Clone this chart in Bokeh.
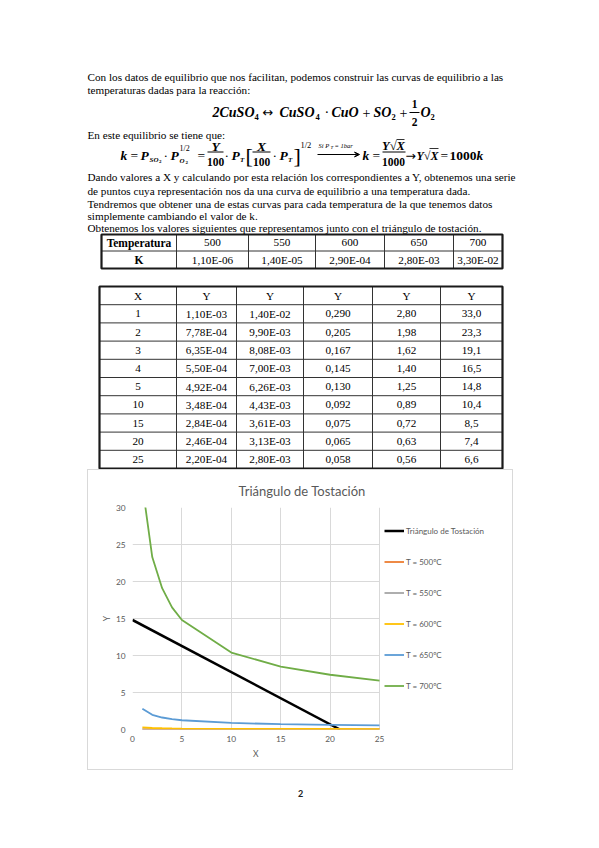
from bokeh.plotting import figure
from bokeh.models import (Range1d, Legend, LegendItem, FixedTicker, Spacer, Arrow, VeeHead, Grid, Title)
from bokeh.layouts import column, row
from bokeh.core.properties import value
from bokeh.embed import file_html
from bokeh.resources import INLINE

# ---------------- data ----------------
temps = ["500", "550", "600", "650", "700"]
k_txt = ["1,10E-06", "1,40E-05", "2,90E-04", "2,80E-03", "3,30E-02"]
x_vals = [1, 2, 3, 4, 5, 10, 15, 20, 25]
y500_txt = ["1,10E-03", "7,78E-04", "6,35E-04", "5,50E-04", "4,92E-04", "3,48E-04", "2,84E-04", "2,46E-04", "2,20E-04"]
y550_txt = ["1,40E-02", "9,90E-03", "8,08E-03", "7,00E-03", "6,26E-03", "4,43E-03", "3,61E-03", "3,13E-03", "2,80E-03"]
y600_txt = ["0,290", "0,205", "0,167", "0,145", "0,130", "0,092", "0,075", "0,065", "0,058"]
y650_txt = ["2,80", "1,98", "1,62", "1,40", "1,25", "0,89", "0,72", "0,63", "0,56"]
y700_txt = ["33,0", "23,3", "19,1", "16,5", "14,8", "10,4", "8,5", "7,4", "6,6"]
tri_x = [0, 21]
tri_y = [14.8, 0]
series_names = ["T = 500ºC", "T = 550ºC", "T = 600ºC", "T = 650ºC", "T = 700ºC"]
series_colors = ["#ED7D31", "#A5A5A5", "#FFC000", "#5B9BD5", "#70AD47"]
x_ticks = [0, 5, 10, 15, 20, 25]
y_ticks = [0, 5, 10, 15, 20, 25, 30]


def num(s):
    return float(s.replace(",", "."))


y_series = [[num(s) for s in col] for col in (y500_txt, y550_txt, y600_txt, y650_txt, y700_txt)]

SERIF = "Liberation Serif"
BODY = 11.2

# ---------------- document part ----------------
top = figure(width=591, height=469, x_range=Range1d(0, 591), y_range=Range1d(469, 0),
             output_backend="svg", toolbar_location=None, min_border=0,
             x_axis_type=None, y_axis_type=None, outline_line_color=None)
top.grid.grid_line_color = None


def txt(x, y, s, size=BODY, font=SERIF, style="normal", align="left", color="black"):
    top.text(x=[x], y=[y], text=[s], text_font=value(font), text_font_size=f"{size}px",
             text_font_style=style, text_align=align, text_baseline="middle", text_color=color)


lines = [
    (76.7, "Con los datos de equilibrio que nos facilitan, podemos construir las curvas de equilibrio a las"),
    (89.5, "temperaturas dadas para la reacción:"),
    (134.0, "En este equilibrio se tiene que:"),
    (176.7, "Dando valores a X y calculando por esta relación los correspondientes a Y, obtenemos una serie"),
    (190.0, "de puntos cuya representación nos da una curva de equilibrio a una temperatura dada."),
    (203.0, "Tendremos que obtener una de estas curvas para cada temperatura de la que tenemos datos"),
    (215.5, "simplemente cambiando el valor de k."),
    (227.5, "Obtenemos los valores siguientes que representamos junto con el triángulo de tostación."),
]
for yy, s in lines:
    txt(87, yy, s)

# equation 1
EF = 14
BI = "bold italic"
y1 = 112
txt(212, y1, "2CuSO", EF, SERIF, BI)
txt(254, y1 + 4, "4", 8.5, SERIF, "bold")
txt(262, y1, "↔", 13, "DejaVu Sans")
txt(279, y1, "CuSO", EF, SERIF, BI)
txt(315, y1 + 4, "4", 8.5, SERIF, "bold")
txt(324, y1, "·", EF, SERIF)
txt(331, y1, "CuO", EF, SERIF, BI)
txt(362, y1, "+", EF, SERIF)
txt(373, y1, "SO", EF, SERIF, BI)
txt(391, y1 + 4, "2", 8.5, SERIF, "bold")
txt(399, y1, "+", EF, SERIF)
txt(414, y1 - 9, "1", 11.5, SERIF, "bold", "center")
top.segment(x0=[409], y0=[y1], x1=[419], y1=[y1], line_color="black", line_width=1)
txt(414, y1 + 9, "2", 11.5, SERIF, "bold", "center")
txt(420, y1, "O", EF, SERIF, BI)
txt(430, y1 + 4, "2", 8.5, SERIF, "bold")

# equation 2
EF2 = 13.5
y0 = 155
yn, yd, yb = 145.5, 161.5, 151.5
txt(120, y0, "k", EF2, SERIF, BI)
txt(130, y0, "=", EF2, SERIF)
txt(140, y0, "P", EF2, SERIF, BI)
txt(149, y0 + 4, "SO", 7, SERIF, BI)
txt(158.5, y0 + 6, "2", 5, SERIF, "bold")
txt(163, y0, "·", EF2, SERIF)
txt(170, y0, "P", EF2, SERIF, BI)
txt(179, y0 - 7, "1/2", 8, SERIF)
txt(179, y0 + 5, "O", 7, SERIF, BI)
txt(185, y0 + 7, "2", 5, SERIF, "bold")
txt(197, y0, "=", EF2, SERIF)
txt(215, yn, "Y", EF2, SERIF, BI, "center")
top.segment(x0=[207], y0=[yb], x1=[223], y1=[yb], line_color="black", line_width=1)
txt(215, yd, "100", 11.5, SERIF, "bold", "center")
txt(224, y0, "·", EF2, SERIF)
txt(231, y0, "P", EF2, SERIF, BI)
txt(239.5, y0 + 4, "T", 7, SERIF, BI)
txt(245, y0, "[", 22, SERIF)
txt(261, yn, "X", EF2, SERIF, BI, "center")
top.segment(x0=[252], y0=[yb], x1=[270], y1=[yb], line_color="black", line_width=1)
txt(261, yd, "100", 11.5, SERIF, "bold", "center")
txt(272, y0, "·", EF2, SERIF)
txt(279, y0, "P", EF2, SERIF, BI)
txt(287.5, y0 + 4, "T", 7, SERIF, BI)
txt(293, y0, "]", 22, SERIF)
txt(300, y0 - 11, "1/2", 8.5, SERIF)
txt(318, y0 - 10, "Si P", 6.5, SERIF, "italic")
txt(330, y0 - 8.5, "T", 5, SERIF, "italic")
txt(334, y0 - 10, "= 1bar", 6.5, SERIF, "italic")
top.add_layout(Arrow(x_start=317, y_start=y0 - 1, x_end=359, y_end=y0 - 1, line_width=1,
                     end=VeeHead(size=5, line_width=1, fill_color="black")))
txt(362, y0, "k", EF2, SERIF, BI)
txt(372, y0, "=", EF2, SERIF)
txt(393, yn, "Y√X", 12.5, SERIF, BI, "center")
top.segment(x0=[396], y0=[yn - 6.5], x1=[404], y1=[yn - 6.5], line_color="black", line_width=0.8)
top.segment(x0=[382], y0=[yb], x1=[405], y1=[yb], line_color="black", line_width=1)
txt(393, yd, "1000", 11.5, SERIF, "bold", "center")
txt(405, y0, "→", 12.5, "DejaVu Sans")
txt(416, y0, "Y√X", 12, SERIF, BI)
top.segment(x0=[429], y0=[y0 - 7], x1=[438], y1=[y0 - 7], line_color="black", line_width=0.8)
txt(440, y0, "=", EF2, SERIF)
txt(449, y0, "1000", EF2, SERIF, "bold")
txt(476, y0, "k", EF2, SERIF, BI)

# table 1
t1_cols = [101, 176, 248, 315, 384, 453, 502]
t1_rows = [234, 250.5, 268]
inner = dict(line_color="#333333", line_width=1)
for xc in t1_cols[1:-1]:
    top.segment(x0=[xc], y0=[t1_rows[0]], x1=[xc], y1=[t1_rows[-1]], **inner)
top.segment(x0=[t1_cols[0]], y0=[t1_rows[1]], x1=[t1_cols[-1]], y1=[t1_rows[1]], **inner)
top.quad(left=[t1_cols[0]], right=[t1_cols[-1]], top=[t1_rows[0]], bottom=[t1_rows[-1]],
         fill_color=None, line_color="#1a1a1a", line_width=2.2)
cy1 = (t1_rows[0] + t1_rows[1]) / 2
cy2 = (t1_rows[1] + t1_rows[2]) / 2
txt((t1_cols[0] + t1_cols[1]) / 2, cy1, "Temperatura", 11.5, SERIF, "bold", "center")
txt((t1_cols[0] + t1_cols[1]) / 2, cy2, "K", 11.5, SERIF, "bold", "center")
for i in range(5):
    cx = (t1_cols[i + 1] + t1_cols[i + 2]) / 2
    txt(cx, cy1, temps[i], BODY, SERIF, "normal", "center")
    txt(cx, cy2, k_txt[i], BODY, SERIF, "normal", "center")

# table 2
t2_cols = [99, 176, 236, 303, 372, 440, 502]
t2_top, t2_step = 286, 18.2
t2_rows = [t2_top + t2_step * i for i in range(11)]
for xc in t2_cols[1:-1]:
    top.segment(x0=[xc], y0=[t2_rows[0]], x1=[xc], y1=[t2_rows[-1]], **inner)
for yr in t2_rows[1:-1]:
    top.segment(x0=[t2_cols[0]], y0=[yr], x1=[t2_cols[-1]], y1=[yr], **inner)
top.quad(left=[t2_cols[0]], right=[t2_cols[-1]], top=[t2_rows[0]], bottom=[t2_rows[-1]],
         fill_color=None, line_color="#1a1a1a", line_width=2.2)
headers = ["X", "Y", "Y", "Y", "Y", "Y"]
cols_txt = [[str(v) for v in x_vals], y500_txt, y550_txt, y600_txt, y650_txt, y700_txt]
for j in range(6):
    cx = (t2_cols[j] + t2_cols[j + 1]) / 2
    txt(cx, t2_rows[0] + t2_step / 2, headers[j], BODY, SERIF, "normal", "center")
    for i in range(9):
        txt(cx, t2_rows[i + 1] + t2_step / 2, cols_txt[j][i], BODY, SERIF, "normal", "center")

# ---------------- chart ----------------
CAL = "Lato"
GRAY = "#595959"
CH_W, CH_H = 426, 301
ML, MT, MB = 44, 37, 42
FRAME_W = CH_W - ML          # frame extends to the right edge (legend lives inside)
DATA_W = 247                 # pixels used by x = 0..25
x_max = 25 * FRAME_W / DATA_W

chart = figure(width=CH_W, height=CH_H, x_range=Range1d(0, x_max), y_range=Range1d(0, 30),
               output_backend="svg", toolbar_location=None,
               min_border_left=ML, min_border_right=0, min_border_top=MT, min_border_bottom=MB,
               title="Triángulo de Tostación", outline_line_color=None)
chart.styles = {"border": "1px solid #d9d9d9"}
chart.title.align = "left"
chart.title.offset = 106
chart.title.text_font = CAL
chart.title.text_font_size = "13px"
chart.title.text_font_style = "normal"
chart.title.text_color = GRAY
chart.title.standoff = 18

for ax in (chart.xaxis[0], chart.yaxis[0]):
    ax.major_tick_line_color = None
    ax.minor_tick_line_color = None
    ax.major_tick_out = 0
    ax.major_tick_in = 0
    ax.minor_tick_out = 0
    ax.minor_tick_in = 0
    ax.axis_line_color = None
    ax.major_label_text_font = CAL
    ax.major_label_text_font_size = "8.3px"
    ax.major_label_text_color = GRAY
    ax.axis_label_text_font = CAL
    ax.axis_label_text_font_size = "8.5px"
    ax.axis_label_text_font_style = "normal"
    ax.axis_label_text_color = GRAY
chart.xaxis[0].ticker = FixedTicker(ticks=x_ticks)
chart.yaxis[0].ticker = FixedTicker(ticks=y_ticks)
chart.xaxis[0].bounds = (0, 25)
chart.xgrid[0].ticker = FixedTicker(ticks=x_ticks)
chart.ygrid[0].ticker = FixedTicker(ticks=y_ticks)
chart.yaxis[0].axis_label = "Y"
chart.xaxis[0].major_label_standoff = 6
chart.yaxis[0].major_label_standoff = 7
chart.yaxis[0].axis_label_standoff = 1
chart.grid.grid_line_color = "#d9d9d9"
chart.grid.grid_line_width = 1
if "cross_bounds" in Grid.properties():
    chart.ygrid[0].cross_bounds = (0, 25)
    chart.xgrid[0].cross_bounds = (0, 30)
else:
    chart.ygrid[0].grid_line_color = None
    chart.segment(x0=[0] * len(y_ticks), y0=y_ticks, x1=[25] * len(y_ticks), y1=y_ticks,
                  line_color="#d9d9d9", line_width=1)

# x axis title, centred under the data area (0..25)
xtitle = Title(text="X", align="left", offset=DATA_W / 2 - 3, standoff=4,
               text_font=CAL, text_font_size="8.5px", text_font_style="normal", text_color=GRAY)
chart.add_layout(xtitle, "below")

items = []
r_tri = chart.line(tri_x, tri_y, line_color="black", line_width=2.5)
items.append(LegendItem(label="Triángulo de Tostación", renderers=[r_tri]))
for name, col, ys in zip(series_names, series_colors, y_series):
    r = chart.line(x_vals, ys, line_color=col, line_width=1.8)
    items.append(LegendItem(label=name, renderers=[r]))

legend = Legend(items=items, location=(DATA_W + 5, 28), orientation="vertical",
                spacing=0, padding=7, margin=0, glyph_width=20, glyph_height=31, label_height=31,
                label_standoff=2, label_text_font=CAL, label_text_font_size="8px",
                label_text_color=GRAY, border_line_color=None, background_fill_alpha=0)
chart.add_layout(legend)

# ---------------- page footer ----------------
bottom = figure(width=591, height=70, x_range=Range1d(0, 591), y_range=Range1d(840, 770),
                output_backend="svg", toolbar_location=None, min_border=0,
                x_axis_type=None, y_axis_type=None, outline_line_color=None)
bottom.grid.grid_line_color = None
bottom.text(x=[300], y=[793], text=["2"], text_font=value(CAL), text_font_size="9px",
            text_font_style="bold", text_align="center", text_baseline="middle", text_color="#222222")

layout = column(top, row(Spacer(width=87, height=CH_H), chart), bottom)
open("out.html", "w").write(file_html(layout, INLINE))
